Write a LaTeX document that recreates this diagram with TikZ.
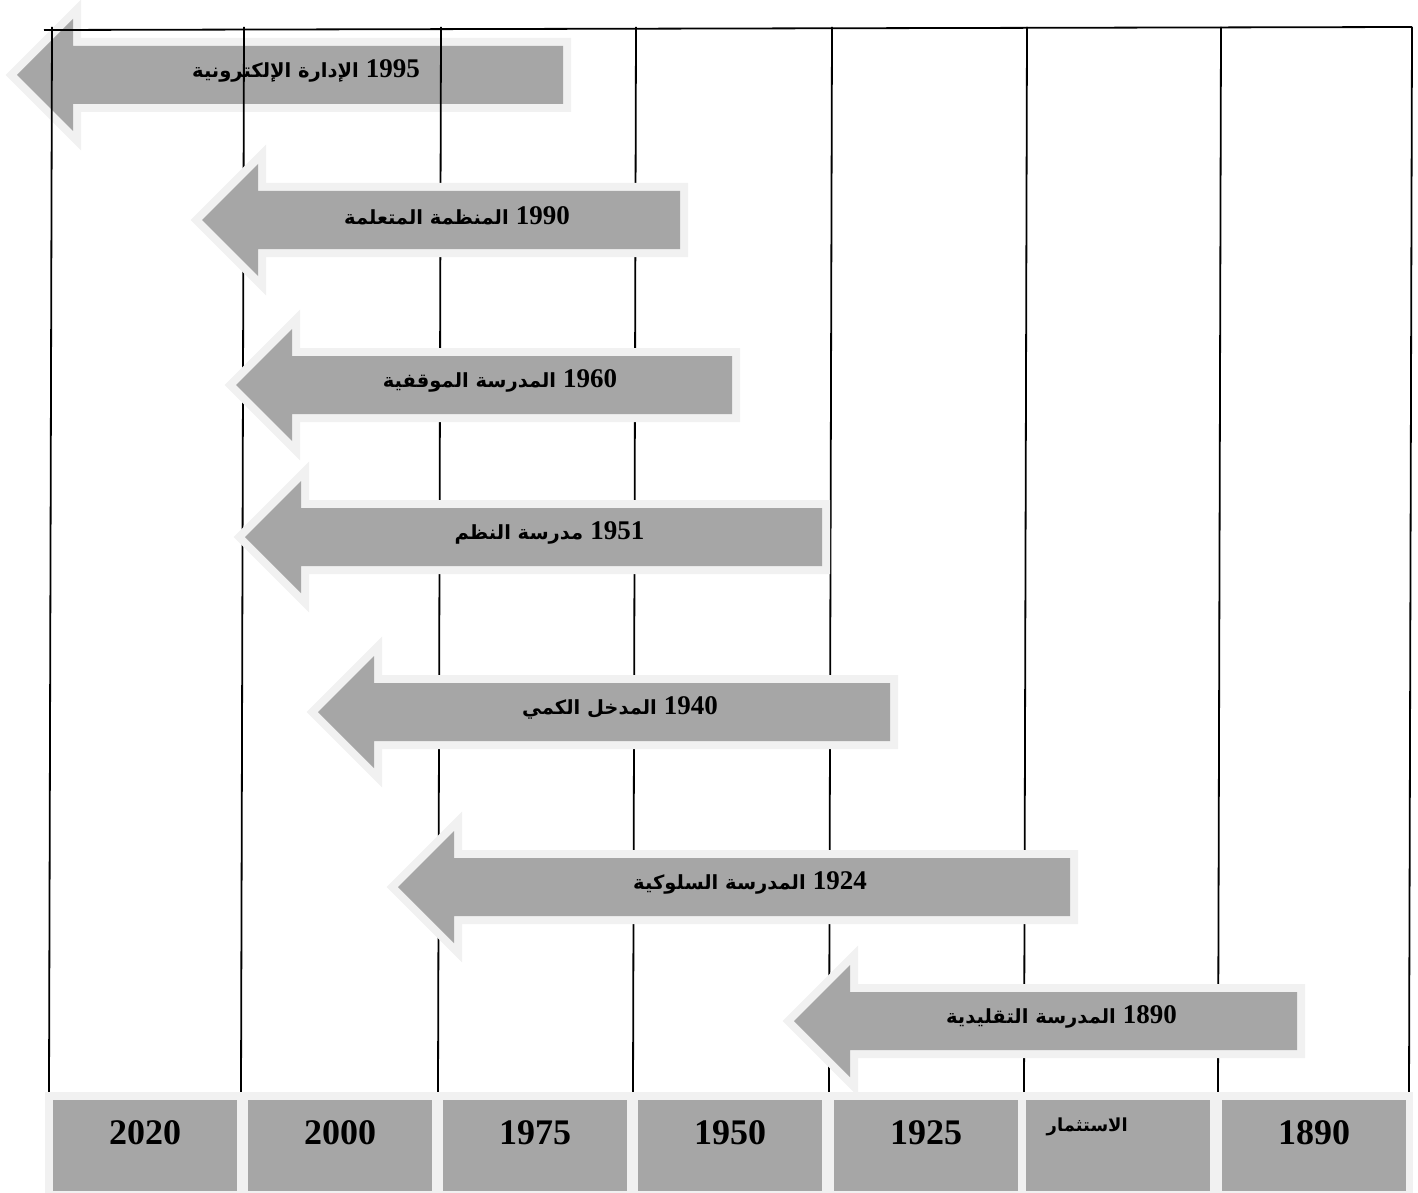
\documentclass[tikz,border=0pt]{standalone}
\usepackage{fontspec}
\setmainfont{Liberation Serif}
\newfontfamily\arabicfont[Script=Arabic]{DejaVu Sans}
\TeXXeTstate=1
\definecolor{bandgray}{HTML}{F1F1F1}
\definecolor{cellgray}{HTML}{A6A6A6}
\tikzset{
  era/.style={fill=cellgray, preaction={draw=bandgray, line width=16pt, line join=miter}},
  gridline/.style={line width=1.8pt, black},
  cell/.style={fill=cellgray, minimum width=184pt, minimum height=91pt, inner sep=0pt, anchor=north west},
  yearlabel/.style={font=\fontsize{36}{40}\selectfont\bfseries, inner sep=0pt},
  eralabel/.style={inner sep=0pt},
}
% one period arrow: name, tip x, right end x, centre y, Arabic title, year
\newcommand\eraArrow[6]{%
  \path[era] (#2,#4) -- (#2+56,#4-56) -- (#2+56,#4-29) -- (#3,#4-29)
    -- (#3,#4+29) -- (#2+56,#4+29) -- (#2+56,#4+56) -- cycle;
  \node[eralabel] (#1) at ({(#2+56+#3)/2-12},#4-4)
    {{\arabicfont\fontsize{19.5}{24}\selectfont\bfseries #5}\hspace{7pt}%
     {\fontsize{27}{30}\selectfont\bfseries #6}};
}
\begin{document}
\begin{tikzpicture}[x=1pt,y=-1pt]
\useasboundingbox (0,0) rectangle (1418,1193);

% earliest-drawn arrow lies beneath the grid
\eraArrow{a1995}{17}{563}{75}{\beginR الإدارة الإلكترونية\endR}{1995}

% time grid
\coordinate (top-l) at (44,30);
\coordinate (top-r) at (1412,27);
\draw[gridline] (top-l) -- (top-r);
\foreach \i/\xt/\xb in {1/52/49, 2/244/241, 3/441/438, 4/636/633, 5/832/829, 6/1027/1024, 7/1221/1218, 8/1412/1409} {
  \coordinate (t\i) at (\xt,27);
  \coordinate (b\i) at (\xb,1092);
  \draw[gridline] (t\i) -- (b\i);
}

% year band
\fill[bandgray] (45,1092) rectangle (1413,1193);
\node[cell] (c1) at (53,1100) {};
\node[cell] (c2) at (248,1100) {};
\node[cell] (c3) at (443,1100) {};
\node[cell] (c4) at (638,1100) {};
\node[cell] (c5) at (834,1100) {};
\node[cell] (c6) at (1026,1100) {};
\node[cell] (c7) at (1222,1100) {};
\node[yearlabel] (y1) at ([yshift=-33pt]c1.north) {2020};
\node[yearlabel] (y2) at ([yshift=-33pt]c2.north) {2000};
\node[yearlabel] (y3) at ([yshift=-33pt]c3.north) {1975};
\node[yearlabel] (y4) at ([yshift=-33pt]c4.north) {1950};
\node[yearlabel] (y5) at ([yshift=-33pt]c5.north) {1925};
\node[inner sep=0pt] (y6) at ([xshift=-31pt,yshift=-27pt]c6.north)
  {\arabicfont\fontsize{18}{21}\selectfont\bfseries\beginR الاستثمار\endR};
\node[yearlabel] (y7) at ([yshift=-33pt]c7.north) {1890};

% period arrows
\eraArrow{a1990}{202}{680}{220}{\beginR المنظمة المتعلمة\endR}{1990}
\eraArrow{a1960}{236}{732}{385}{\beginR المدرسة الموقفية\endR}{1960}
\eraArrow{a1951}{245}{822}{537}{\beginR مدرسة النظم\endR}{1951}
\eraArrow{a1940}{318}{890}{712}{\beginR المدخل الكمي\endR}{1940}
\eraArrow{a1924}{398}{1070}{887}{\beginR المدرسة السلوكية\endR}{1924}
\eraArrow{a1890}{794}{1297}{1021}{\beginR المدرسة التقليدية\endR}{1890}
\end{tikzpicture}
\end{document}
